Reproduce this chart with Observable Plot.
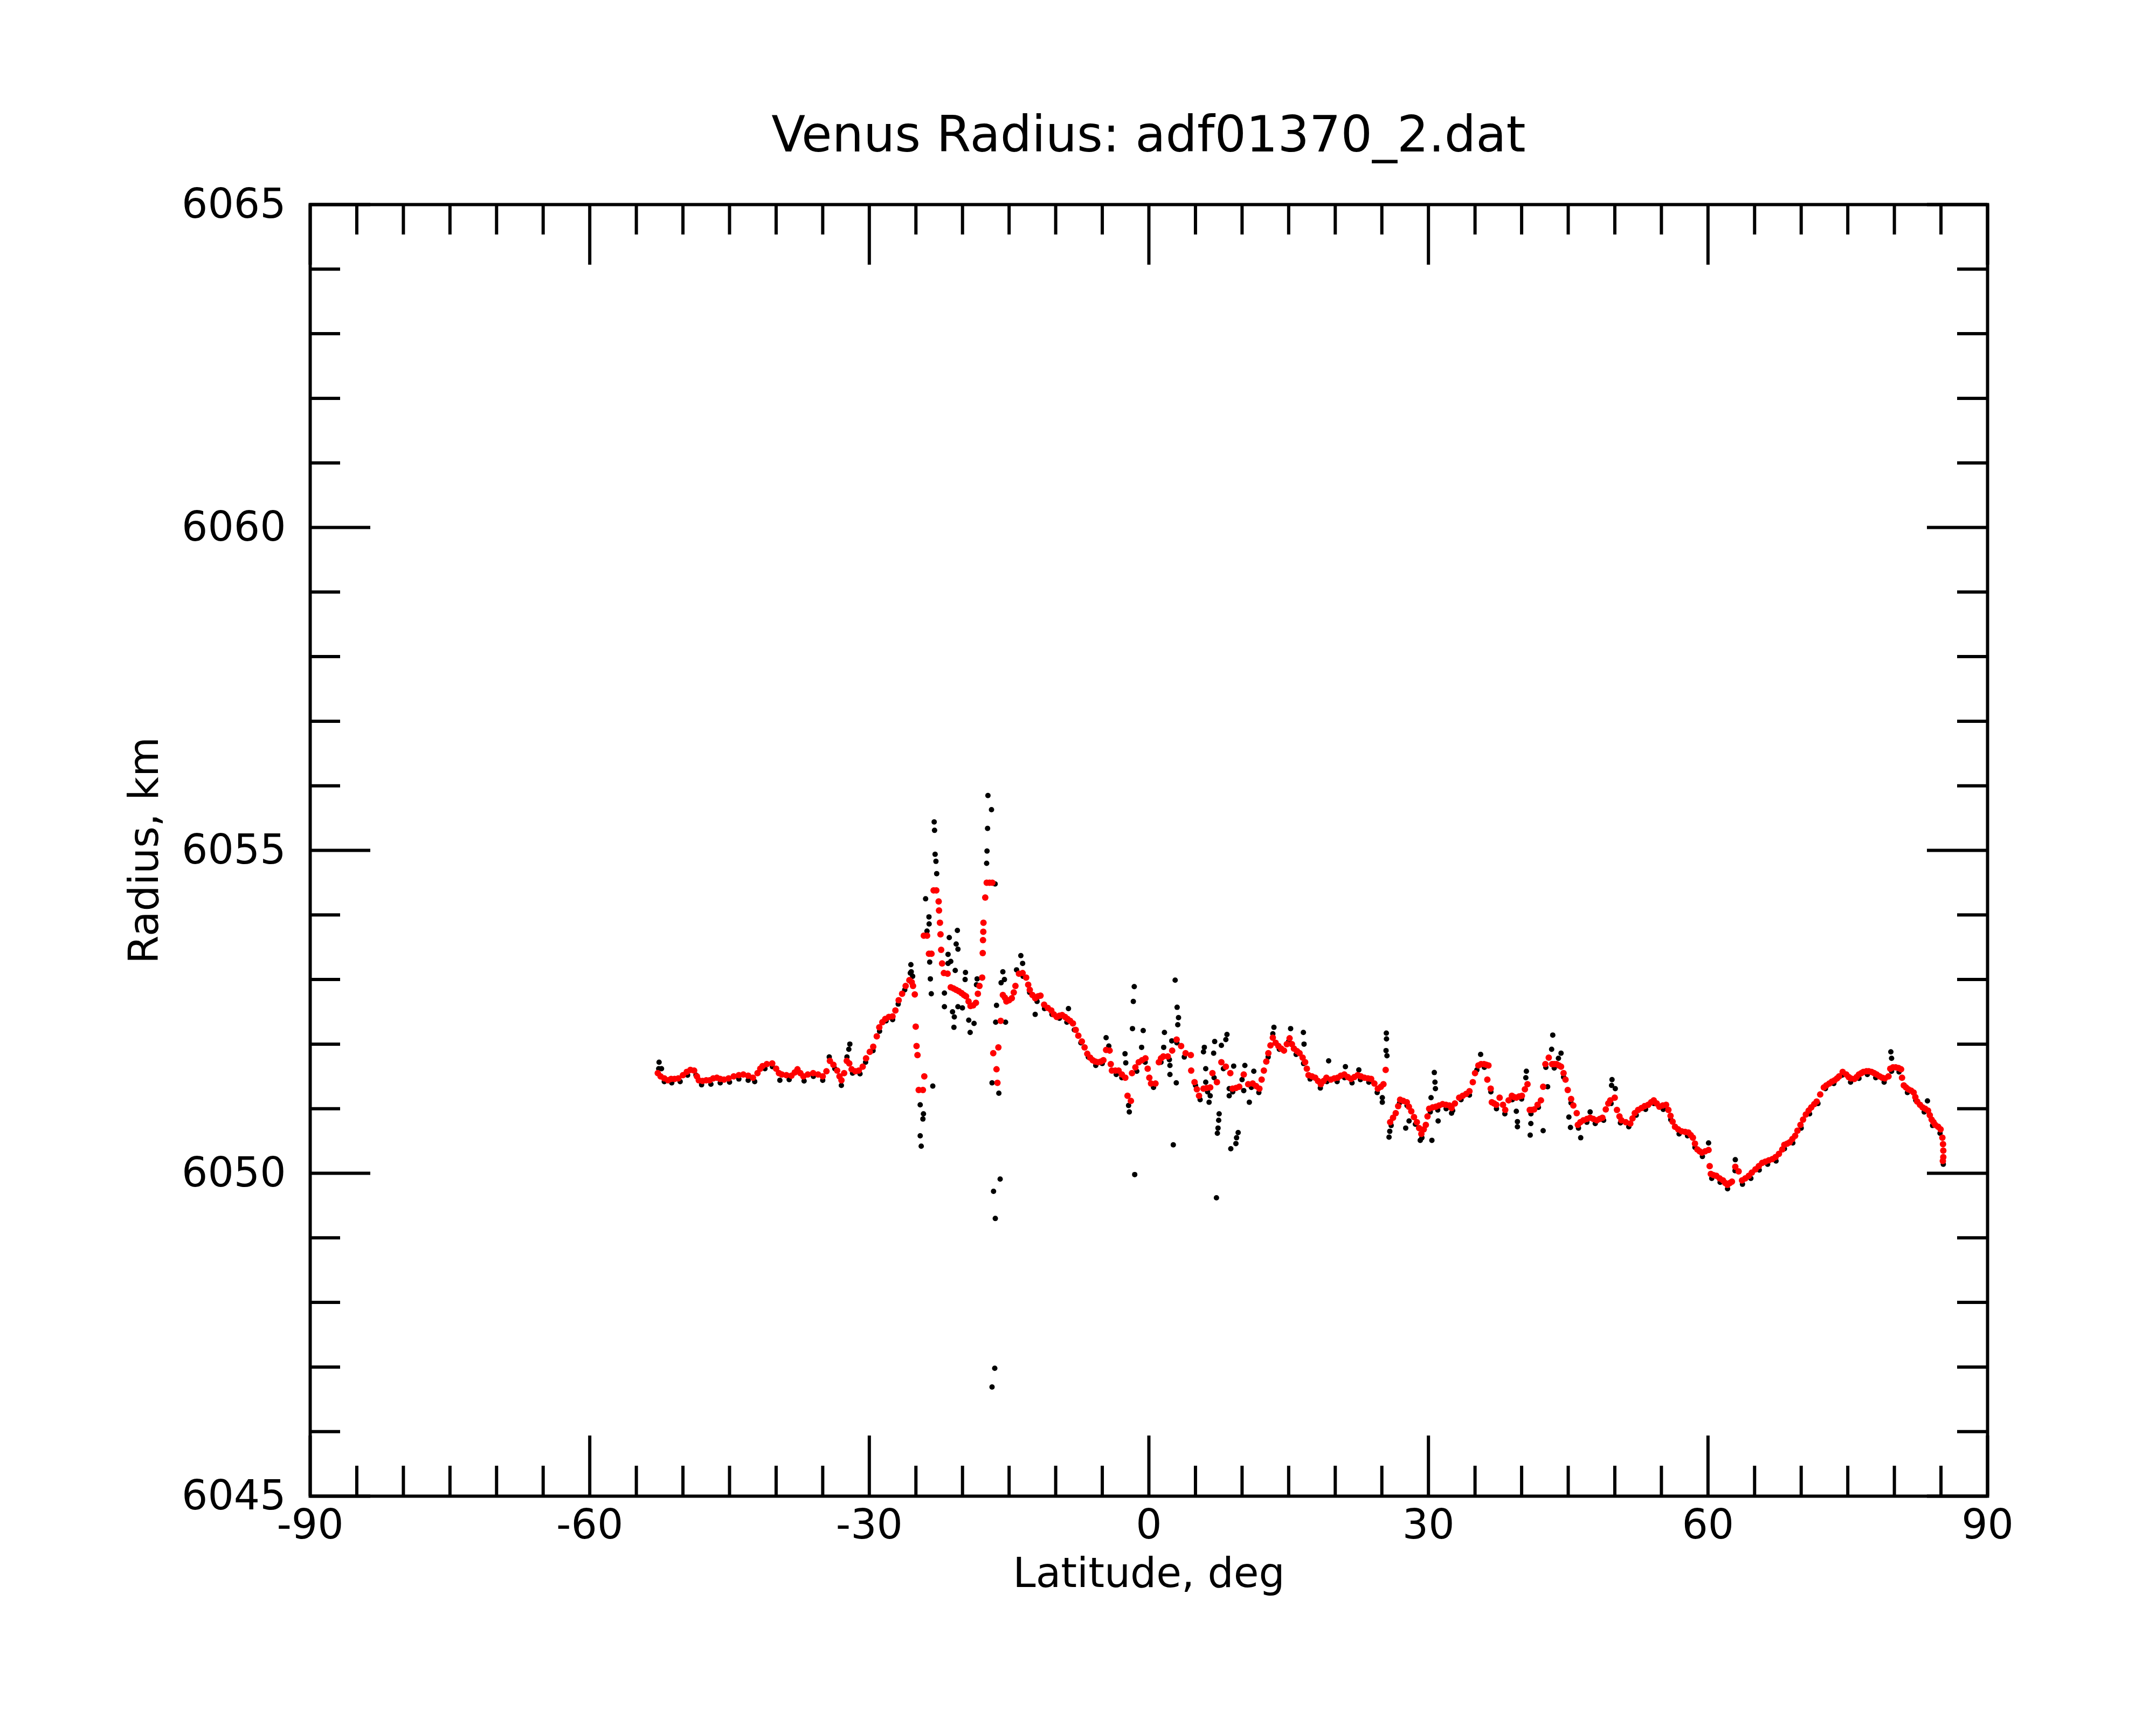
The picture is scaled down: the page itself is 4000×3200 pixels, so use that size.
<!DOCTYPE html>
<html><head><meta charset="utf-8">
<script src="https://cdn.jsdelivr.net/npm/d3@7"></script>
<script src="https://cdn.jsdelivr.net/npm/@observablehq/plot@0.6"></script>
<style>
body{margin:0;background:#fff;}
#title{box-sizing:border-box;width:4000px;height:300px;padding-top:204px;padding-left:262px;text-align:center;font-family:"DejaVu Sans";font-size:92px;line-height:92px;color:#000;white-space:nowrap;}
</style></head><body>
<div id="title">Venus Radius: adf01370_2.dat</div>
<div id="chart"></div>
<script>
const xMajor = [-90, -60, -30, 0, 30, 60, 90];
const xMinor = [-85,-80,-75,-70,-65,-55,-50,-45,-40,-35,-25,-20,-15,-10,-5,5,10,15,20,25,35,40,45,50,55,65,70,75,80,85];
const yMajor = [6045, 6050, 6055, 6060, 6065];
const yMinor = [6046,6047,6048,6049,6051,6052,6053,6054,6056,6057,6058,6059,6061,6062,6063,6064];

const redLat = [-52.7,-52.4,-52.0,-51.6,-51.27,-50.9,-50.5,-50.0,-49.59,-49.2,-48.8,-48.5,-48.3,-47.9,-47.5,-47.14,-46.75,-46.36,-46.0,-45.59,-45.1,-44.55,-44.0,-43.52,-43.0,-42.49,-42.0,-41.7,-41.46,-41.0,-40.42,-40.0,-39.7,-39.39,-38.9,-38.36,-38.0,-37.71,-37.4,-37.07,-36.6,-36.03,-35.5,-35.0,-34.6,-34.23,-33.85,-33.45,-33.2,-32.99,-32.7,-32.42,-32.15,-31.9,-31.5,-31.13,-30.71,-30.35,-29.95,-29.58,-29.2,-28.93,-28.6,-28.29,-27.9,-27.51,-27.2,-26.85,-26.48,-26.1,-25.7,-25.45,-25.31,-25.12,-25.02,-24.93,-24.83,-24.7,-24.25,-24.1,-24.15,-23.8,-23.6,-23.33,-23.1,-22.81,-22.56,-22.52,-22.42,-22.36,-22.29,-22.19,-22.0,-21.6,-21.26,-20.95,-20.68,-20.4,-20.1,-19.85,-19.62,-19.35,-19.14,-18.85,-18.56,-18.35,-18.18,-17.89,-17.83,-17.8,-17.77,-17.75,-17.56,-17.4,-17.1,-16.8,-16.7,-16.35,-16.25,-16.15,-15.9,-15.67,-15.45,-15.29,-15.0,-14.71,-14.5,-14.32,-13.94,-13.55,-13.17,-12.95,-12.78,-12.5,-12.2,-11.9,-11.63,-11.24,-10.85,-10.47,-10.2,-9.89,-9.6,-9.31,-9.0,-8.73,-8.45,-8.15,-7.85,-7.57,-7.19,-6.9,-6.61,-6.3,-6.03,-5.75,-5.45,-5.15,-4.88,-4.59,-4.21,-4.09,-3.97,-3.6,-3.25,-2.9,-2.53,-2.29,-1.93,-1.81,-1.45,-1.09,-0.73,-0.37,-0.13,0.05,0.23,0.71,1.07,1.3,1.55,2.03,2.5,2.98,3.46,3.94,4.5,4.54,4.9,5.15,5.38,5.86,6.2,6.58,6.82,7.3,7.78,8.26,8.74,8.98,9.35,9.7,10.18,10.66,11.14,11.5,11.86,12.1,12.34,12.6,12.82,13.05,13.3,13.6,13.9,14.2,14.5,14.8,15.1,15.35,15.57,15.9,16.17,16.5,16.77,16.95,17.13,17.5,17.85,18.15,18.45,18.75,19.05,19.53,19.9,20.25,20.6,20.97,21.35,21.69,22.05,22.41,22.75,23.13,23.5,23.85,24.2,24.57,24.9,25.17,25.41,25.89,26.2,26.49,26.75,26.96,27.3,27.68,27.9,28.16,28.45,28.76,29.0,29.24,29.5,29.72,29.9,30.08,30.45,30.8,31.15,31.52,31.88,32.24,32.48,32.84,33.3,33.68,34.05,34.4,34.76,35.0,35.36,35.65,35.96,36.2,36.44,36.32,36.68,36.8,37.05,37.28,37.64,38.0,38.24,38.6,38.95,39.2,39.43,39.73,40.03,40.35,40.63,40.87,41.1,41.35,41.71,42.07,42.31,42.55,42.91,43.27,43.5,43.75,44.0,44.23,44.5,44.71,44.95,45.31,45.55,45.91,46.03,46.3,46.63,47.0,47.35,47.7,48.07,48.37,48.67,49.03,49.3,49.51,49.99,50.23,50.5,50.71,51.18,51.66,51.9,52.14,52.5,52.86,53.2,53.58,53.9,54.18,54.5,54.78,55.15,55.5,55.75,55.98,56.2,56.46,56.8,57.18,57.55,57.9,58.15,58.38,58.6,58.86,59.1,59.34,59.7,60.06,60.18,60.3,60.6,60.9,61.25,61.61,61.85,62.09,62.35,62.57,62.93,63.29,63.65,64.0,64.37,64.7,65.09,65.45,65.81,66.15,66.53,66.9,67.25,67.61,67.97,68.19,68.5,68.77,69.05,69.35,69.6,69.92,70.2,70.5,70.8,71.08,71.4,71.66,72.04,72.43,72.7,73.01,73.3,73.59,73.85,74.07,74.45,74.84,75.1,75.32,75.71,75.95,76.19,76.45,76.67,77.0,77.25,77.55,77.83,78.1,78.41,78.7,78.98,79.37,79.56,79.85,80.14,80.45,80.72,80.82,81.01,81.25,81.49,81.8,82.07,82.25,82.45,82.75,83.03,83.3,83.61,83.8,84.0,84.2,84.38,84.7,84.96,85.15,85.22,85.25,85.25,85.2];
const redRadius = [6051.55,6051.50,6051.47,6051.44,6051.46,6051.46,6051.47,6051.52,6051.57,6051.60,6051.59,6051.50,6051.44,6051.43,6051.44,6051.44,6051.47,6051.48,6051.46,6051.45,6051.47,6051.50,6051.52,6051.53,6051.51,6051.48,6051.55,6051.62,6051.66,6051.69,6051.70,6051.62,6051.55,6051.53,6051.52,6051.51,6051.56,6051.61,6051.55,6051.50,6051.53,6051.55,6051.53,6051.50,6051.58,6051.74,6051.68,6051.59,6051.50,6051.44,6051.55,6051.74,6051.70,6051.61,6051.58,6051.59,6051.65,6051.78,6051.88,6051.96,6052.12,6052.26,6052.34,6052.39,6052.42,6052.43,6052.52,6052.68,6052.78,6052.90,6052.99,6052.96,6052.90,6052.77,6052.27,6051.97,6051.83,6051.29,6051.29,6051.50,6053.68,6053.68,6053.40,6053.40,6054.38,6054.38,6054.21,6054.07,6053.88,6053.70,6053.46,6053.25,6053.10,6053.09,6052.88,6052.86,6052.84,6052.82,6052.79,6052.76,6052.74,6052.66,6052.59,6052.60,6052.64,6052.78,6052.90,6053.03,6053.41,6053.61,6053.74,6053.88,6054.27,6054.50,6054.50,6054.50,6051.86,6051.61,6051.40,6051.95,6052.36,6052.76,6052.72,6052.66,6052.68,6052.71,6052.80,6052.90,6053.09,6053.10,6053.03,6052.92,6052.84,6052.76,6052.71,6052.74,6052.75,6052.61,6052.56,6052.52,6052.46,6052.42,6052.44,6052.45,6052.42,6052.39,6052.36,6052.32,6052.22,6052.13,6052.04,6051.95,6051.85,6051.79,6051.75,6051.73,6051.72,6051.73,6051.75,6051.91,6051.90,6051.69,6051.59,6051.59,6051.59,6051.53,6051.48,6051.20,6051.12,6051.55,6051.64,6051.72,6051.75,6051.78,6051.62,6051.48,6051.39,6051.39,6051.72,6051.78,6051.81,6051.81,6051.90,6052.07,6051.97,6051.86,6051.83,6051.59,6051.41,6051.30,6051.20,6051.31,6051.32,6051.33,6051.55,6051.41,6051.72,6051.65,6051.55,6051.31,6051.32,6051.34,6051.53,6051.38,6051.39,6051.35,6051.31,6051.45,6051.59,6051.73,6051.86,6051.98,6052.10,6052.02,6051.97,6051.93,6051.90,6052.00,6052.09,6052.00,6051.93,6051.89,6051.86,6051.79,6051.72,6051.62,6051.52,6051.50,6051.48,6051.43,6051.38,6051.43,6051.48,6051.45,6051.47,6051.48,6051.51,6051.53,6051.49,6051.46,6051.49,6051.52,6051.50,6051.48,6051.47,6051.46,6051.39,6051.31,6051.34,6051.38,6051.60,6050.79,6050.86,6050.93,6051.04,6051.14,6051.12,6051.10,6051.03,6050.96,6050.87,6050.79,6050.70,6050.61,6050.68,6050.75,6050.88,6051.00,6051.02,6051.03,6051.05,6051.07,6051.06,6051.05,6051.01,6051.08,6051.17,6051.20,6051.23,6051.27,6051.41,6051.55,6051.67,6051.69,6051.69,6051.68,6051.67,6051.45,6051.31,6051.10,6051.08,6051.06,6051.17,6051.06,6050.98,6051.13,6051.20,6051.18,6051.17,6051.19,6051.20,6051.30,6051.38,6050.98,6050.98,6050.99,6051.06,6051.13,6051.34,6051.69,6051.79,6051.69,6051.69,6051.69,6051.67,6051.65,6051.55,6051.45,6051.29,6051.15,6051.05,6050.93,6050.75,6050.79,6050.82,6050.84,6050.86,6050.84,6050.82,6050.84,6050.86,6050.99,6051.08,6051.13,6051.17,6050.98,6050.88,6050.82,6050.79,6050.77,6050.85,6050.93,6050.98,6051.01,6051.04,6051.06,6051.10,6051.13,6051.08,6051.03,6051.05,6051.06,6050.98,6050.89,6050.80,6050.72,6050.68,6050.65,6050.64,6050.63,6050.59,6050.55,6050.46,6050.37,6050.34,6050.32,6050.34,6050.36,6050.11,6049.99,6049.97,6049.96,6049.92,6049.89,6049.85,6049.82,6049.85,6049.87,6050.10,6050.03,6049.89,6049.92,6049.96,6050.01,6050.06,6050.11,6050.16,6050.18,6050.20,6050.22,6050.25,6050.30,6050.37,6050.44,6050.46,6050.48,6050.53,6050.58,6050.66,6050.75,6050.83,6050.91,6050.97,6051.02,6051.07,6051.11,6051.22,6051.33,6051.36,6051.39,6051.42,6051.44,6051.47,6051.50,6051.57,6051.53,6051.49,6051.47,6051.46,6051.49,6051.53,6051.55,6051.57,6051.58,6051.58,6051.57,6051.55,6051.53,6051.50,6051.48,6051.47,6051.50,6051.62,6051.64,6051.64,6051.63,6051.61,6051.48,6051.36,6051.33,6051.30,6051.28,6051.25,6051.18,6051.11,6051.06,6051.02,6051.00,6050.97,6050.90,6050.83,6050.79,6050.75,6050.72,6050.68,6050.55,6050.45,6050.35,6050.25,6050.19];

const blackLat = [-52.6,-52.56,-52.3,-52.0,-51.2,-50.3,-49.5,-48.6,-48.0,-47.0,-46.0,-45.0,-44.0,-43.0,-42.3,-41.2,-40.4,-39.6,-38.6,-37.7,-37.0,-36.0,-35.0,-34.3,-33.7,-33.0,-32.4,-32.2,-32.09,-31.8,-31.0,-30.4,-29.6,-28.9,-28.2,-27.5,-26.9,-26.2,-25.6,-25.54,-25.5,-25.35,-23.96,-23.6,-23.58,-23.81,-23.04,-23.0,-22.94,-22.85,-22.77,-23.52,-23.45,-23.35,-23.19,-24.54,-24.19,-24.25,-24.54,-24.43,-21.42,-21.55,-21.26,-21.55,-20.55,-20.68,-20.49,-20.78,-21.94,-21.94,-21.07,-20.88,-20.92,-20.49,-20.01,-19.68,-19.72,-19.33,-19.18,-18.76,-18.43,-18.5,-17.27,-16.89,-17.31,-17.37,-17.41,-16.5,-16.35,-16.44,-16.83,-16.1,-15.96,-16.67,-16.48,-16.54,-16.83,-15.67,-15.5,-15.86,-15.38,-14.2,-13.74,-13.55,-13.5,-12.8,-12.2,-12.0,-11.2,-10.4,-9.6,-8.8,-8.63,-8.0,-7.3,-6.5,-5.7,-5.0,-4.59,-4.3,-3.5,-2.9,-2.56,-2.48,-2.18,-2.1,-1.57,-1.67,-1.76,-1.52,-1.3,-0.61,-0.78,-0.4,0.5,1.3,1.67,1.59,2.2,2.26,2.26,2.94,2.82,3.03,3.18,3.1,2.62,2.46,3.0,3.8,5.0,5.5,5.86,5.95,6.1,6.3,7.06,6.95,7.78,8.26,8.38,6.1,6.58,6.46,7.54,7.49,7.42,7.35,7.25,7.0,8.0,8.62,9.1,8.62,9.0,9.58,9.41,9.34,8.79,10.0,10.3,10.18,10.78,11.0,11.26,11.8,12.8,13.3,13.42,14.0,15.0,15.21,15.8,16.58,16.65,16.6,17.3,18.4,19.1,19.29,20.2,21.0,21.09,21.8,22.53,22.7,23.6,24.5,25.48,25.5,25.45,25.55,25.05,25.05,25.77,25.85,26.0,26.9,27.56,27.7,27.92,28.6,29.12,29.3,30.2,30.37,30.63,30.7,30.75,30.28,31.0,31.04,31.9,32.48,32.6,33.5,34.4,35.2,35.6,36.0,36.7,37.3,38.2,39.0,40.0,40.51,40.45,39.43,39.55,39.55,40.99,40.92,41.0,41.8,42.31,42.6,43.34,43.22,43.5,44.23,43.95,42.79,44.5,45.07,45.24,45.3,46.1,46.34,47.0,47.35,47.9,48.8,49.6,49.7,49.65,50.05,50.6,51.5,52.3,53.3,54.2,55.2,56.0,56.9,57.8,58.6,59.4,60.06,60.4,61.3,62.1,62.9,62.93,63.7,64.6,65.5,66.4,67.3,68.2,69.1,70.0,70.9,71.8,72.6,73.5,74.4,75.3,76.2,77.1,78.0,78.9,79.62,79.7,79.7,80.5,81.4,82.3,83.2,83.55,84.1,84.9,85.25];
const blackRadius = [6051.62,6051.72,6051.62,6051.42,6051.40,6051.42,6051.52,6051.52,6051.37,6051.38,6051.40,6051.41,6051.46,6051.44,6051.42,6051.62,6051.65,6051.44,6051.45,6051.58,6051.43,6051.50,6051.44,6051.80,6051.62,6051.36,6051.80,6051.92,6052.00,6051.55,6051.54,6051.72,6051.90,6052.20,6052.36,6052.38,6052.62,6052.84,6053.10,6053.23,6053.12,6053.05,6054.25,6053.97,6053.86,6053.75,6055.44,6055.31,6054.94,6054.83,6054.64,6053.27,6053.01,6052.78,6051.35,6051.06,6050.92,6050.84,6050.58,6050.42,6053.65,6053.39,6053.28,6053.25,6053.76,6053.55,6053.47,6053.14,6052.79,6052.58,6052.50,6052.42,6052.26,6052.58,6052.56,6053.11,6053.00,6052.37,6052.18,6052.32,6053.01,6052.92,6055.85,6055.63,6055.34,6054.99,6054.80,6054.48,6052.60,6052.34,6051.40,6051.24,6049.91,6049.72,6049.30,6046.98,6046.69,6053.12,6053.00,6052.95,6052.34,6053.15,6053.37,6053.25,6053.05,6052.80,6052.46,6052.66,6052.55,6052.46,6052.40,6052.34,6052.55,6052.22,6052.02,6051.80,6051.67,6051.70,6052.10,6051.97,6051.53,6051.48,6051.85,6051.71,6051.05,6050.95,6052.89,6052.66,6052.24,6049.98,6051.58,6052.21,6051.95,6051.72,6051.33,6051.72,6052.18,6051.95,6051.76,6051.67,6051.53,6051.40,6052.99,6052.57,6052.41,6052.30,6050.44,6052.05,6052.02,6051.80,6051.36,6051.14,6051.88,6051.95,6051.62,6051.26,6052.04,6051.86,6051.98,6052.07,6052.15,6051.41,6051.20,6051.10,6050.92,6050.82,6050.70,6050.62,6049.62,6051.48,6051.62,6051.31,6051.66,6051.20,6051.26,6050.63,6050.55,6050.46,6050.38,6051.45,6051.67,6051.28,6051.10,6051.33,6051.58,6051.25,6051.80,6052.16,6052.26,6051.92,6052.04,6052.24,6051.84,6052.18,6052.00,6051.70,6051.46,6051.32,6051.42,6051.74,6051.42,6051.48,6051.65,6051.40,6051.60,6051.45,6051.41,6051.25,6052.17,6052.08,6051.90,6051.82,6051.17,6051.10,6050.56,6050.65,6050.74,6051.09,6050.70,6051.05,6050.81,6050.76,6050.51,6050.55,6050.95,6050.51,6051.56,6051.41,6051.31,6051.17,6050.98,6050.81,6051.00,6050.93,6050.97,6051.14,6051.21,6051.60,6051.84,6051.64,6051.26,6051.00,6050.92,6051.14,6051.15,6051.58,6051.48,6050.96,6050.80,6050.72,6050.77,6050.59,6050.92,6051.02,6050.66,6051.64,6052.14,6051.92,6051.63,6051.86,6051.78,6051.34,6051.49,6050.87,6050.71,6051.09,6050.70,6050.55,6050.79,6050.95,6050.77,6050.82,6051.08,6051.45,6051.36,6051.31,6050.78,6050.72,6050.90,6050.99,6051.08,6050.99,6050.83,6050.61,6050.58,6050.40,6050.26,6050.47,6049.92,6049.86,6049.76,6050.04,6050.21,6049.83,6049.92,6050.05,6050.14,6050.19,6050.38,6050.47,6050.70,6050.92,6051.08,6051.31,6051.39,6051.52,6051.41,6051.47,6051.53,6051.48,6051.41,6051.88,6051.78,6051.58,6051.57,6051.25,6051.13,6050.95,6051.12,6050.74,6050.62,6050.14];

const redPts = redLat.map((lat, i) => ({lat, radius: redRadius[i]}));
const blackPts = blackLat.map((lat, i) => ({lat, radius: blackRadius[i]}));

const W = 4000, H = 2900, mL = 575, mR = 313, mT = 79, mB = 425;
const plotW = W - mL - mR, plotH = H - mT - mB;
const majorLen = 112, minorLen = 56, sw = 6;
const fmt = d => String(d);

const chart = Plot.plot({
  width: W, height: H,
  marginLeft: mL, marginRight: mR, marginTop: mT, marginBottom: mB,
  style: {fontFamily: "DejaVu Sans", background: "white", color: "black", overflow: "visible"},
  x: {domain: [-90, 90]},
  y: {domain: [6045, 6065]},
  marks: [
    Plot.ruleX(xMinor, {x: d => d, insetTop: plotH - minorLen, stroke: "black", strokeWidth: sw}),
    Plot.ruleX(xMinor, {x: d => d, insetBottom: plotH - minorLen, stroke: "black", strokeWidth: sw}),
    Plot.ruleX(xMajor, {x: d => d, insetTop: plotH - majorLen, stroke: "black", strokeWidth: sw}),
    Plot.ruleX(xMajor, {x: d => d, insetBottom: plotH - majorLen, stroke: "black", strokeWidth: sw}),
    Plot.ruleY(yMinor, {y: d => d, insetRight: plotW - minorLen, stroke: "black", strokeWidth: sw}),
    Plot.ruleY(yMinor, {y: d => d, insetLeft: plotW - minorLen, stroke: "black", strokeWidth: sw}),
    Plot.ruleY(yMajor, {y: d => d, insetRight: plotW - majorLen, stroke: "black", strokeWidth: sw}),
    Plot.ruleY(yMajor, {y: d => d, insetLeft: plotW - majorLen, stroke: "black", strokeWidth: sw}),
    Plot.axisX({ticks: xMajor, tickSize: 0, tickPadding: 25, fontSize: 76, tickFormat: fmt, label: null}),
    Plot.axisY({ticks: yMajor, tickSize: 0, tickPadding: 45, fontSize: 76, tickFormat: fmt, label: null}),
    Plot.dot(blackPts, {x: "lat", y: "radius", r: 5, fill: "black"}),
    Plot.dot(redPts, {x: "lat", y: "radius", r: 6, fill: "#ff0000"}),
    Plot.frame({stroke: "black", strokeWidth: sw}),
    Plot.text(["Latitude, deg"], {frameAnchor: "bottom", lineAnchor: "bottom", textAnchor: "middle", dy: 168, fontSize: 76, fill: "black"}),
    Plot.text(["Radius, km"], {frameAnchor: "left", lineAnchor: "middle", textAnchor: "middle", dx: -307, rotate: -90, fontSize: 76, fill: "black"})
  ]
});
document.getElementById("chart").appendChild(chart);
</script>
</body></html>
